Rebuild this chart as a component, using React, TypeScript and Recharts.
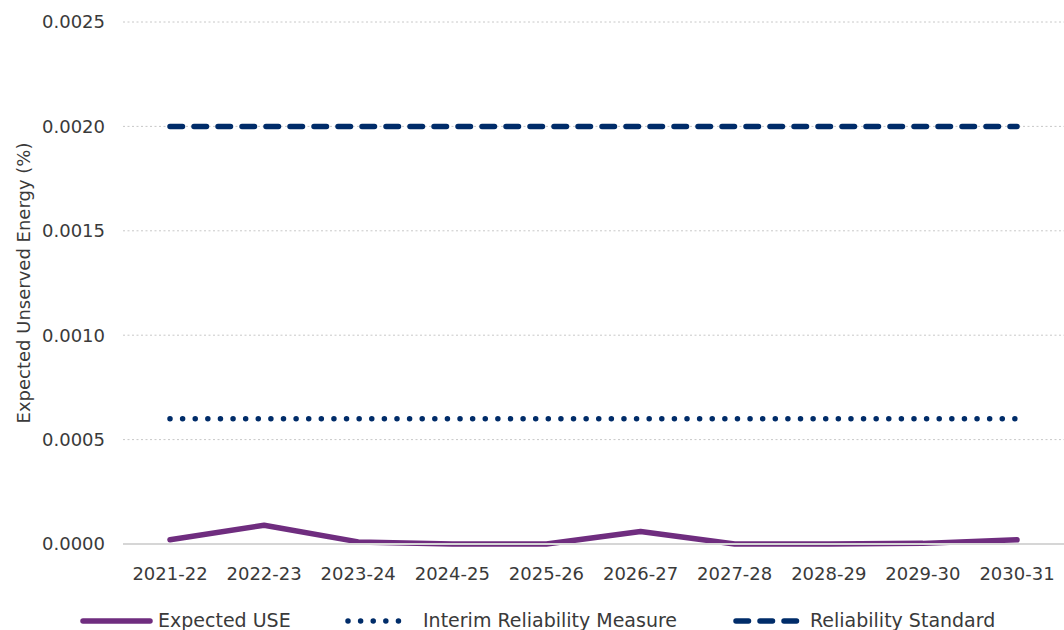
import { LineChart, Line, XAxis, YAxis, CartesianGrid, Legend } from "recharts"

const years = [
  "2021-22", "2022-23", "2023-24", "2024-25", "2025-26",
  "2026-27", "2027-28", "2028-29", "2029-30", "2030-31",
]
const expectedUse = [0.00002, 0.00009, 0.00001, 0.0, 0.0, 0.00006, 0.0, 0.0, 0.000003, 0.00002]
const interimMeasure = [0.0006, 0.0006, 0.0006, 0.0006, 0.0006, 0.0006, 0.0006, 0.0006, 0.0006, 0.0006]
const reliabilityStandard = [0.002, 0.002, 0.002, 0.002, 0.002, 0.002, 0.002, 0.002, 0.002, 0.002]
const yTicks = [0, 0.0005, 0.001, 0.0015, 0.002, 0.0025]

const PURPLE = "#6f2d7f"
const NAVY = "#002c69"
const TEXT = "#3a3a3a"
const FONT = "'DejaVu Sans', sans-serif"

const data = years.map((year, i) => ({
  year,
  use: expectedUse[i],
  interim: interimMeasure[i],
  standard: reliabilityStandard[i],
}))

const YLabel = ({ viewBox }: any) => {
  const x = viewBox.x + 30
  const y = viewBox.y + viewBox.height / 2
  return (
    <text
      x={x}
      y={y}
      transform={`rotate(-90, ${x}, ${y})`}
      textAnchor="middle"
      fill={TEXT}
      fontSize={18}
      fontFamily={FONT}
    >
      Expected Unserved Energy (%)
    </text>
  )
}

// legend items: icon start/end and text start
const legendItems = [
  { name: "Expected USE", x1: 83, x2: 150, tx: 158, color: PURPLE, dash: undefined },
  { name: "Interim Reliability Measure", x1: 348, x2: 410, tx: 423, color: NAVY, dash: "0.01 12.6" },
  { name: "Reliability Standard", x1: 736, x2: 800, tx: 810, color: NAVY, dash: "12.5 11.5" },
]

const ChartLegend = () => (
  <svg width={1064} height={20} style={{ display: "block" }}>
    {legendItems.map((it) => (
      <g key={it.name}>
        <line
          x1={it.x1}
          x2={it.x2}
          y1={11}
          y2={11}
          stroke={it.color}
          strokeWidth={5.5}
          strokeLinecap="round"
          strokeDasharray={it.dash}
        />
        <text x={it.tx} y={17} fill={TEXT} fontSize={19} fontFamily={FONT}>
          {it.name}
        </text>
      </g>
    ))}
  </svg>
)

export default function App() {
  return (
    <div
      style={{
        position: "absolute",
        left: 0,
        top: 0,
        width: 1064,
        height: 630,
        overflow: "hidden",
        background: "#fff",
      }}
    >
      <LineChart
        width={1064}
        height={630}
        data={data}
        margin={{ top: 22, right: 0, bottom: 0, left: 0 }}
        style={{ fontFamily: FONT }}
      >
        <CartesianGrid vertical={false} stroke="#c8c8c8" strokeDasharray="2 2.5" />
        <XAxis
          dataKey="year"
          height={66}
          tickLine={false}
          axisLine={{ stroke: "#d6d6d6", strokeWidth: 2 }}
          tickMargin={17}
          tick={{ fill: TEXT, fontSize: 18, fontFamily: FONT }}
          interval={0}
          padding={{ left: 47, right: 47 }}
        />
        <YAxis
          width={123}
          domain={[0, 0.0025]}
          ticks={yTicks}
          tickFormatter={(v: number) => v.toFixed(4)}
          tickLine={false}
          axisLine={false}
          tickMargin={12}
          tick={{ fill: TEXT, fontSize: 18, fontFamily: FONT }}
          label={<YLabel />}
        />
        <Legend
          verticalAlign="bottom"
          content={() => <ChartLegend />}
          wrapperStyle={{ left: 0, bottom: 0, width: 1064, height: 20 }}
        />
        <Line
          dataKey="standard"
          name="Reliability Standard"
          stroke={NAVY}
          strokeWidth={5.5}
          strokeDasharray="12.5 11.5"
          strokeLinecap="round"
          dot={false}
          activeDot={false}
          isAnimationActive={false}
        />
        <Line
          dataKey="interim"
          name="Interim Reliability Measure"
          stroke={NAVY}
          strokeWidth={5.5}
          strokeDasharray="0.01 12.6"
          strokeLinecap="round"
          dot={false}
          activeDot={false}
          isAnimationActive={false}
        />
        <Line
          dataKey="use"
          name="Expected USE"
          stroke={PURPLE}
          strokeWidth={5.5}
          strokeLinejoin="round"
          strokeLinecap="round"
          dot={false}
          activeDot={false}
          isAnimationActive={false}
        />
      </LineChart>
    </div>
  )
}
